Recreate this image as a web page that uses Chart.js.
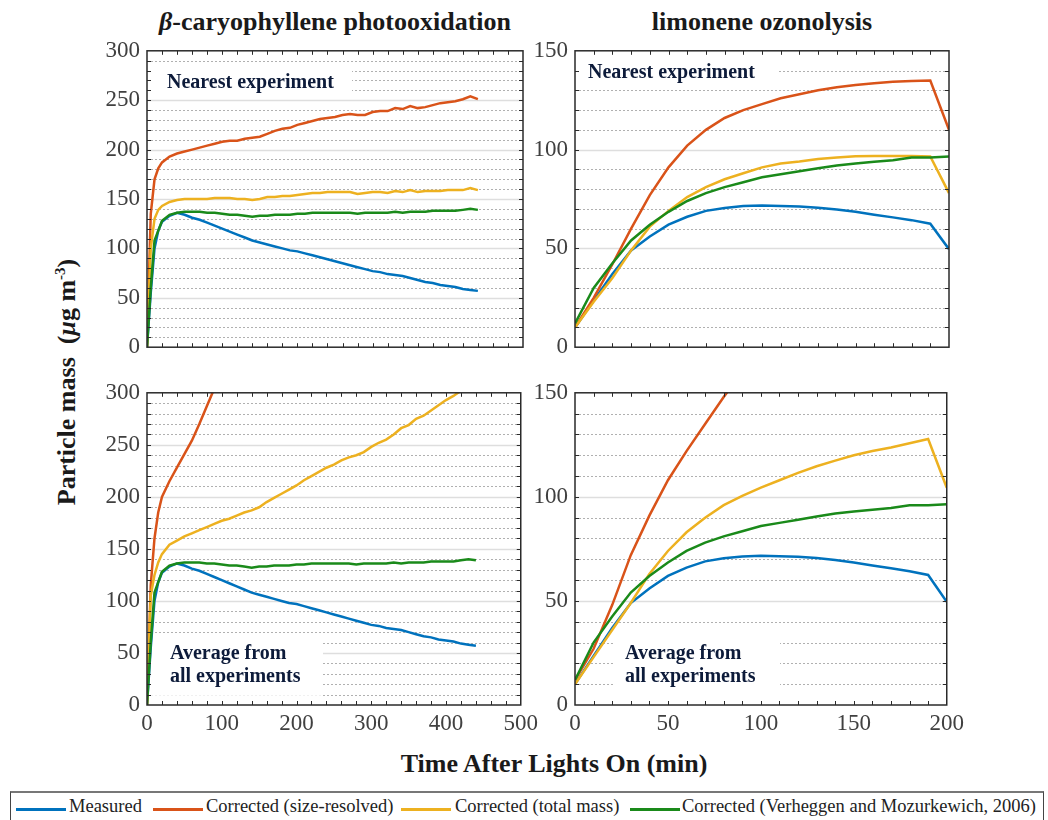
<!DOCTYPE html>
<html>
<head>
<meta charset="utf-8">
<script src="https://cdn.jsdelivr.net/npm/chart.js"></script>
<style>
  body { margin: 0; background: #fff; width: 1048px; height: 820px; position: relative; overflow: hidden; font-family: 'Liberation Serif', 'Times New Roman', serif; }
  canvas { position: absolute; }
  .txt { position: absolute; color: #1a1a1a; font-weight: bold; white-space: nowrap; }
  .title { font-size: 26px; transform: translateX(-50%); top: 7px; }
  .note { font-size: 20px; line-height: 23px; color: #0d1b3a; }
  #legend { position: absolute; left: 10px; top: 791px; width: 1034px; height: 30px; border: 1px solid #444; border-top: 2px solid #777; box-sizing: border-box; }
  .lline { position: absolute; top: 15px; width: 50px; height: 3px; }
  .ltext { position: absolute; top: 3px; font-size: 18.5px; color: #222; white-space: nowrap; }
</style>
</head>
<body>

<div class="txt title" style="left:335px"><i>β</i>-caryophyllene photooxidation</div>
<div class="txt title" style="left:762px">limonene ozonolysis</div>
<div class="txt" style="left:67px;top:382px;font-size:26px;transform:translate(-50%,-50%) rotate(-90deg)">Particle mass&nbsp; (<i>μ</i>g m<sup style="font-size:15px">-3</sup>)</div>
<div class="txt" style="left:554px;top:749px;font-size:26px;transform:translateX(-50%)">Time After Lights On (min)</div>

<canvas id="tl" width="456" height="338" style="left:87px;top:30px"></canvas>
<canvas id="tr" width="454" height="338" style="left:515px;top:30px"></canvas>
<canvas id="bl" width="456" height="369" style="left:87px;top:372px"></canvas>
<canvas id="br" width="454" height="369" style="left:515px;top:372px"></canvas>

<div class="txt note" style="left:167px;top:70px">Nearest experiment</div>
<div class="txt note" style="left:588px;top:60px">Nearest experiment</div>
<div class="txt note" style="left:170px;top:641px">Average from<br>all experiments</div>
<div class="txt note" style="left:625px;top:641px">Average from<br>all experiments</div>

<div id="legend"></div>

<script>
// beta-caryophyllene photooxidation (min, ug m-3)
const caryTime = [0,5,10,15,20,30,40,50,60,70,80,90,100,110,120,130,140,150,160,170,180,190,200,210,220,230,240,250,260,270,280,290,300,310,320,330,340,350,360,370,380,390,400,410,420,430,440];
const caryMeasured = [0,55,100,118,127,133,136,134,131,129,126,123,120,117,114,111,108,106,104,102,100,98,97,95,93,91,89,87,85,83,81,79,77,76,74,73,72,70,68,66,65,63,62,61,59,58,57];
const caryNearestSize = [0,135,170,181,187,193,196,198,200,202,204,206,208,209,209,211,212,213,216,219,221,222,225,227,229,231,232,233,235,236,235,235,238,239,239,242,241,244,242,243,245,247,248,249,251,254,251];
const caryNearestTotal = [0,100,130,139,143,147,149,150,150,150,150,151,151,151,150,150,149,150,152,152,153,153,154,155,156,156,157,157,157,157,155,156,157,157,156,158,157,159,157,158,158,158,159,159,159,161,159];
const caryVM = [0,60,108,118,128,134,136,137,137,137,136,136,135,134,134,133,132,133,133,134,134,134,135,135,136,136,136,136,136,136,135,136,136,136,136,137,136,137,137,137,138,138,138,138,139,140,139];
const caryAvgSizeTime = [0,5,10,15,20,30,40,50,60,70,80,90,100];
const caryAvgSize = [0,115,160,185,200,215,228,241,254,270,287,304,320];
const caryAvgTotal = [0,105,125,137,145,154,158,162,165,168,171,174,177,179,182,185,187,190,195,199,203,207,211,216,220,224,228,231,235,238,240,243,248,252,255,260,266,269,275,278,283,288,293,297,302,306,310];

// limonene ozonolysis
const limTime = [0,10,20,30,40,50,60,70,80,90,100,110,120,130,140,150,160,170,180,190,200];
const limMeasured = [10,23.6,37,49,56,62,66,69,70.5,71.4,71.7,71.5,71.2,70.6,69.7,68.5,67,65.7,64.3,62.5,49.6];
const limNearestSize = [10,25,42,60,77,91,102,110,116,120,123,126,128,130,131.6,132.7,133.6,134.3,134.7,135,110];
const limNearestTotal = [10,23,35,49,61,69,76,81,85,88,91,93,94,95.3,96,96.6,96.8,96.8,96.8,96.5,78];
const limVM = [12,30,42.5,54,62,68.5,74,78,81,83.5,86,87.5,89,90.6,92,93,93.8,94.6,96,96,96.5];
const limAvgSizeTime = [0,10,20,30,40,50,60,70,80,90];
const limAvgSize = [12,27,48,72,91,108,122,135,148,160];
const limAvgTotal = [10,23,36,49,63,74,83,90,96,100.5,104.4,108,111.5,114.7,117.4,120,122,123.7,125.8,127.8,104.4];

const seriesNames = ['Measured', 'Corrected (size-resolved)', 'Corrected (total mass)', 'Corrected (Verheggen and Mozurkewich, 2006)'];
const seriesColors = ['#0072BD', '#D95319', '#EDB120', '#1A8A1A'];

const pts = (xs, ys) => xs.map((x, i) => ({ x: x, y: ys[i] }));
const tickFont = { family: "'Liberation Serif', 'Times New Roman', serif", size: 23 };

// matlab-like box: solid major grid, dotted minor grid, inner ticks, white label patch
const matlabGrid = {
  id: 'matlabGrid',
  beforeDatasetsDraw(chart, args, o) {
    const { ctx, chartArea: a, scales: { y } } = chart;
    ctx.save();
    for (let v = y.min + o.yMinor; v < y.max; v += o.yMinor) {
      const py = Math.round(y.getPixelForValue(v)) + 0.5;
      ctx.beginPath();
      if (v % o.yMajor === 0) {
        ctx.setLineDash([]);
        ctx.strokeStyle = '#dedede';
        ctx.lineWidth = 1.5;
      } else {
        ctx.setLineDash([2, 2]);
        ctx.strokeStyle = '#b0b0b0';
        ctx.lineWidth = 1;
      }
      ctx.moveTo(a.left, py);
      ctx.lineTo(a.right, py);
      ctx.stroke();
    }
    const m = o.mask;
    ctx.fillStyle = '#fff';
    ctx.fillRect(a.left + m[0], a.top + m[1], m[2] - m[0], m[3] - m[1]);
    ctx.restore();
  },
  afterDatasetsDraw(chart, args, o) {
    const { ctx, chartArea: a, scales: { x, y } } = chart;
    ctx.save();
    ctx.strokeStyle = '#2a2a2a';
    ctx.lineWidth = 1;
    ctx.beginPath();
    for (let v = y.min + o.yMinor; v < y.max; v += o.yMinor) {
      const py = Math.round(y.getPixelForValue(v)) + 0.5;
      ctx.moveTo(a.left, py); ctx.lineTo(a.left + 4, py);
      ctx.moveTo(a.right, py); ctx.lineTo(a.right - 4, py);
    }
    for (let v = x.min + o.xMinor; v < x.max; v += o.xMinor) {
      const px = Math.round(x.getPixelForValue(v)) + 0.5;
      ctx.moveTo(px, a.top); ctx.lineTo(px, a.top + 4);
      ctx.moveTo(px, a.bottom); ctx.lineTo(px, a.bottom - 4);
    }
    ctx.stroke();
    ctx.lineWidth = 1.5;
    ctx.strokeRect(a.left, a.top, a.right - a.left, a.bottom - a.top);
    ctx.restore();
  }
};

function makePanel(id, cfg) {
  const datasets = cfg.series.map(s => ({
    label: seriesNames[s.k],
    data: pts(s.x, s.y),
    borderColor: seriesColors[s.k],
    borderWidth: 2.5,
    pointRadius: 0,
    tension: 0,
    fill: false,
    order: 4 - s.k
  }));
  return new Chart(document.getElementById(id), {
    type: 'line',
    data: { datasets },
    options: {
      responsive: false,
      animation: false,
      devicePixelRatio: 1,
      layout: { padding: { top: 15, right: 20, bottom: cfg.xLabels ? 0 : 5, left: 0 } },
      plugins: {
        legend: { display: false },
        tooltip: { enabled: false },
        matlabGrid: { yMinor: 10, yMajor: 50, xMinor: cfg.xMinor, mask: cfg.mask }
      },
      scales: {
        x: {
          type: 'linear', min: 0, max: cfg.xMax,
          grid: { display: false, drawTicks: false },
          border: { display: false },
          ticks: { display: cfg.xLabels, stepSize: cfg.xStep, padding: 5, font: tickFont, color: '#404040', maxRotation: 0 },
          afterFit: s => { s.height = cfg.xLabels ? 36 : 0; }
        },
        y: {
          min: 0, max: cfg.yMax,
          grid: { display: false, drawTicks: false },
          border: { display: false },
          ticks: { stepSize: 50, padding: 7, font: tickFont, color: '#404040' },
          afterFit: s => { s.width = 60; }
        }
      }
    },
    plugins: [matlabGrid]
  });
}

makePanel('tl', {
  xMax: 500, xStep: 100, xMinor: 20, yMax: 300, xLabels: false, mask: [0, 15, 205, 48],
  series: [
    { k: 0, x: caryTime, y: caryMeasured },
    { k: 1, x: caryTime, y: caryNearestSize },
    { k: 2, x: caryTime, y: caryNearestTotal },
    { k: 3, x: caryTime, y: caryVM }
  ]
});
makePanel('tr', {
  xMax: 200, xStep: 50, xMinor: 10, yMax: 150, xLabels: false, mask: [0, 13, 203, 35],
  series: [
    { k: 0, x: limTime, y: limMeasured },
    { k: 1, x: limTime, y: limNearestSize },
    { k: 2, x: limTime, y: limNearestTotal },
    { k: 3, x: limTime, y: limVM }
  ]
});
makePanel('bl', {
  xMax: 500, xStep: 100, xMinor: 20, yMax: 300, xLabels: true, mask: [0, 249, 176, 303],
  series: [
    { k: 0, x: caryTime, y: caryMeasured },
    { k: 1, x: caryAvgSizeTime, y: caryAvgSize },
    { k: 2, x: caryTime, y: caryAvgTotal },
    { k: 3, x: caryTime, y: caryVM }
  ]
});
makePanel('br', {
  xMax: 200, xStep: 50, xMinor: 10, yMax: 150, xLabels: true, mask: [40, 245, 205, 303],
  series: [
    { k: 0, x: limTime, y: limMeasured },
    { k: 1, x: limAvgSizeTime, y: limAvgSize },
    { k: 2, x: limTime, y: limAvgTotal },
    { k: 3, x: limTime, y: limVM }
  ]
});

// legend along the bottom
const legendLine = [5, 142, 390, 619];
const legendText = [58, 195, 444, 671];
const legend = document.getElementById('legend');
seriesNames.forEach((name, i) => {
  const ln = document.createElement('div');
  ln.className = 'lline';
  ln.style.left = legendLine[i] + 'px';
  ln.style.background = seriesColors[i];
  legend.appendChild(ln);
  const t = document.createElement('div');
  t.className = 'ltext';
  t.style.left = legendText[i] + 'px';
  t.textContent = name;
  legend.appendChild(t);
});
</script>
</body>
</html>
